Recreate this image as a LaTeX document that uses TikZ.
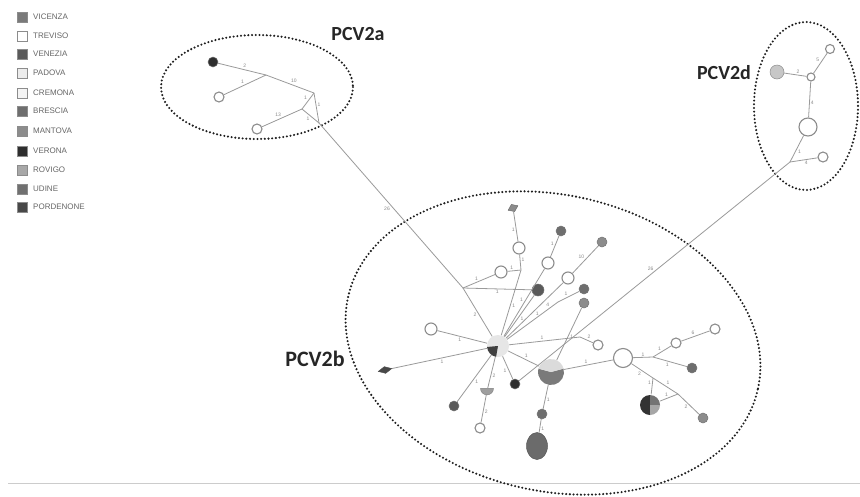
\documentclass[tikz,border=0pt]{standalone}
\usepackage{fontspec}
\setmainfont{Liberation Sans}
\newfontfamily\carl{Carlito}
\usetikzlibrary{shapes.geometric}
\definecolor{linkc}{HTML}{9A9A9A}
\definecolor{labc}{HTML}{8A8A8A}
\definecolor{wbord}{HTML}{8C8C8C}
\definecolor{dotc}{HTML}{1E1E1E}
\definecolor{cVic}{HTML}{7A7A7A}
\definecolor{cVen}{HTML}{5A5A5A}
\definecolor{cPad}{HTML}{ECECEC}
\definecolor{cCre}{HTML}{F4F4F4}
\definecolor{cBre}{HTML}{6E6E6E}
\definecolor{cMan}{HTML}{8C8C8C}
\definecolor{cVer}{HTML}{2E2E2E}
\definecolor{cRov}{HTML}{A8A8A8}
\definecolor{cUdi}{HTML}{707070}
\definecolor{cPor}{HTML}{484848}
\definecolor{hubc}{HTML}{E6E6E6}
\begin{document}
\begin{tikzpicture}[x=1pt,y=-1pt,
  lnk/.style={draw=linkc, line width=0.8pt},
  lab/.style={font=\fontsize{5}{5}\selectfont, text=labc, inner sep=0.8pt, auto},
  nd/.style={circle, inner sep=0pt, draw=black!55, line width=0.5pt, minimum size=#1},
  nd/.default=10pt,
  wn/.style={circle, inner sep=0pt, draw=wbord, fill=white, line width=1.1pt, minimum size=#1},
  wn/.default=10pt,
  hid/.style={circle, inner sep=0pt, minimum size=#1},
  lsq/.style={rectangle, draw=black!45, line width=0.5pt, minimum size=10pt, inner sep=0pt},
  ltx/.style={anchor=west, font=\fontsize{8}{8}\selectfont, text=black!60, inner sep=0pt},
  grp/.style={font=\carl\bfseries\fontsize{20}{20}\selectfont, text=black!85, inner sep=0pt},
  dotring/.style={draw=dotc, line width=2.3pt, line cap=round, dash pattern=on 0pt off 3.7pt}
]
\useasboundingbox (0,0) rectangle (860,496);
\fill[white] (0,0) rectangle (860,496);

% legend
\foreach \yy/\cc/\tt [count=\i] in {17/cVic/VICENZA, 36/white/TREVISO, 54/cVen/VENEZIA, 73/cPad/PADOVA, 93/cCre/CREMONA, 111/cBre/BRESCIA, 131/cMan/MANTOVA, 151/cVer/VERONA, 170/cRov/ROVIGO, 189/cUdi/UDINE, 207/cPor/PORDENONE}{
  \node[lsq, fill=\cc] (lsq\i) at (22,\yy) {};
  \node[ltx] (ltx\i) at (33,\yy) {\tt};
}

% separator
\coordinate (sepL) at (8,483);
\coordinate (sepR) at (860,483);
\draw[draw=black!20, line width=1pt] (sepL) -- (sepR);

% group rings
\draw[dotring] (257,87) ellipse [x radius=96, y radius=52];
\draw[dotring] (806,106) ellipse [x radius=52, y radius=84];
\draw[dotring, rotate around={-12.8:(553,343)}] (553,343) ellipse [x radius=210, y radius=148];

\node[grp] (gA) at (358,34) {PCV2a};
\node[grp] (gD) at (724,73) {PCV2d};
\node[grp, font=\carl\bfseries\fontsize{22}{22}\selectfont] (gB) at (315,359) {PCV2b};

% ---------- PCV2a ----------
\node[nd, fill=cVer] (a1) at (213,62) {};
\node[wn] (a2) at (219,97) {};
\node[wn] (a3) at (257,129) {};
\coordinate (aj1) at (266,75);
\coordinate (aj2) at (314,93);
\coordinate (aj3) at (302,109);
\coordinate (aj4) at (319,123);

% ---------- PCV2d ----------
\node[nd=14pt, fill=black!22, draw=black!45] (d1) at (777,72) {};
\node[wn=8pt] (d2) at (811,77) {};
\node[wn=9pt] (d3) at (830,49) {};
\node[wn=18pt] (d4) at (808,127) {};
\coordinate (dj) at (790,162);
\node[wn=10pt] (d5) at (823,157) {};

% ---------- PCV2b ----------
\node[hid=22pt] (H) at (498,346) {};
\coordinate (h2) at (463,288);
\node[wn=12pt] (wL) at (431,329) {};
\node[diamond, fill=cPor, draw=black!70, line width=0.4pt, minimum width=14pt, minimum height=7pt, inner sep=0pt, rotate=12] (dL) at (385,370) {};
\node[nd, fill=cVen] (dA) at (454,406) {};
\node[semicircle, shape border rotate=180, fill=black!38, draw=black!50, line width=0.4pt, minimum width=13pt, inner sep=0pt] (semi) at (487,391) {};
\node[wn] (wBot) at (480,428) {};
\node[nd, fill=cVer] (dS) at (515,384) {};
\node[hid=26pt] (pie) at (551,372) {};
\node[nd, fill=cBre] (dP) at (542,414) {};
\node[ellipse, fill=black!58, draw=black!65, line width=0.5pt, minimum width=21pt, minimum height=27pt, inner sep=0pt] (bigD) at (537,446) {};
\node[wn=19pt] (wBig) at (623,358) {};
\coordinate (j10) at (653,357);
\node[wn] (wF) at (676,343) {};
\node[wn] (wG) at (715,329) {};
\node[nd, fill=cBre] (dU) at (692,368) {};
\coordinate (j11) at (653,378);
\coordinate (j12) at (678,394);
\node[hid=21pt] (pie2) at (650,405) {};
\node[nd, fill=cMan] (dV) at (703,418) {};
\coordinate (j8) at (580,337);
\node[wn] (wC) at (598,345) {};
\coordinate (j6) at (558,302);
\node[nd, fill=cBre] (dQ) at (584,289) {};
\node[nd, fill=cMan] (dP2) at (584,303) {};
\node[wn=12pt] (wB) at (568,278) {};
\node[nd, fill=cMan] (dR) at (602,242) {};
\node[wn=12pt] (wA) at (548,263) {};
\node[nd, fill=cBre] (dT) at (561,231) {};
\node[nd=12pt, fill=cVen] (dM) at (538,290) {};
\node[wn=12pt] (wE) at (501,272) {};
\coordinate (j5) at (521,270);
\node[wn=12pt] (wD) at (519,248) {};
\node[diamond, fill=cMan, draw=black!60, line width=0.4pt, minimum width=11pt, minimum height=8pt, inner sep=0pt, rotate=25] (diaT) at (513,208) {};

% ---------- links ----------
\draw[lnk] (a1) -- node[lab]{2} (aj1);
\draw[lnk] (aj1) -- node[lab]{10} (aj2);
\draw[lnk] (a2) -- node[lab]{1} (aj1);
\draw[lnk] (aj2) -- node[lab,swap]{1} (aj3);
\draw[lnk] (aj2) -- node[lab]{1} (aj4);
\draw[lnk] (aj3) -- node[lab,swap]{1} (aj4);
\draw[lnk] (a3) -- node[lab]{13} (aj3);
\draw[lnk] (aj4) -- node[lab,swap]{26} (h2);

\draw[lnk] (d1) -- node[lab]{2} (d2);
\draw[lnk] (d2) -- node[lab]{5} (d3);
\draw[lnk] (d2) -- node[lab]{4} (d4);
\draw[lnk] (d4) -- node[lab]{1} (dj);
\draw[lnk] (dj) -- node[lab,swap]{4} (d5);
\draw[lnk] (dj) -- node[lab,swap]{26} (dS);

\draw[lnk] (H) -- node[lab]{1} (wL);
\draw[lnk] (H) -- node[lab]{1} (dL);
\draw[lnk] (H) -- node[lab]{1} (dA);
\draw[lnk] (H) -- node[lab]{2} (semi);
\draw[lnk] (semi) -- node[lab]{2} (wBot);
\draw[lnk] (H) -- node[lab,swap]{1} (dS);
\draw[lnk] (H) -- node[lab]{2} (h2);
\draw[lnk] (h2) -- node[lab]{1} (wE);
\draw[lnk] (wE) -- node[lab]{1} (j5);
\draw[lnk] (wD) -- node[lab]{1} (j5);
\draw[lnk] (diaT) -- node[lab,swap]{1} (wD);
\draw[lnk] (j5) -- node[lab]{1} (H);
\draw[lnk] (h2) -- node[lab,swap]{1} (dM);
\draw[lnk] (dM) -- node[lab]{1} (H);
\draw[lnk] (H) -- node[lab]{1} (wA);
\draw[lnk] (wA) -- node[lab]{1} (dT);
\draw[lnk] (H) -- node[lab,swap]{1} (wB);
\draw[lnk] (wB) -- node[lab]{10} (dR);
\draw[lnk] (H) -- node[lab,pos=0.85]{4} (j6);
\draw[lnk] (j6) -- node[lab]{1} (dQ);
\draw[lnk] (H) -- node[lab]{1} (j8);
\draw[lnk] (j8) -- node[lab]{2} (wC);
\draw[lnk] (H) -- node[lab]{1} (pie);
\draw[lnk] (dP2) -- node[lab]{1} (pie);
\draw[lnk] (pie) -- node[lab]{1} (dP);
\draw[lnk] (dP) -- node[lab]{1} (bigD);
\draw[lnk] (pie) -- node[lab]{1} (wBig);
\draw[lnk] (wBig) -- node[lab]{1} (j10);
\draw[lnk] (j10) -- node[lab]{1} (wF);
\draw[lnk] (wF) -- node[lab]{6} (wG);
\draw[lnk] (j10) -- node[lab,swap]{1} (dU);
\draw[lnk] (wBig) -- node[lab,swap]{2} (j11);
\draw[lnk] (j11) -- node[lab,swap]{1} (pie2);
\draw[lnk] (j11) -- node[lab]{1} (j12);
\draw[lnk] (j12) -- node[lab,swap]{1} (pie2);
\draw[lnk] (j12) -- node[lab,swap]{2} (dV);

% ---------- pie nodes drawn on top ----------
\fill[hubc] (H.center) circle [radius=11];
\fill[black!75] (H.center) -- ++(100:11) arc[start angle=100, end angle=175, radius=11] -- cycle;
\fill[black!52] (pie.center) -- ++(-15:13) arc[start angle=-15, end angle=195, radius=13] -- cycle;
\fill[black!14] (pie.center) -- ++(195:13) arc[start angle=195, end angle=345, radius=13] -- cycle;
\fill[black!80] (pie2.center) -- ++(90:10) arc[start angle=90, end angle=270, radius=10] -- cycle;
\fill[black!55] (pie2.center) -- ++(270:10) arc[start angle=270, end angle=360, radius=10] -- cycle;
\fill[black!35] (pie2.center) -- ++(0:10) arc[start angle=0, end angle=90, radius=10] -- cycle;
\end{tikzpicture}
\end{document}
